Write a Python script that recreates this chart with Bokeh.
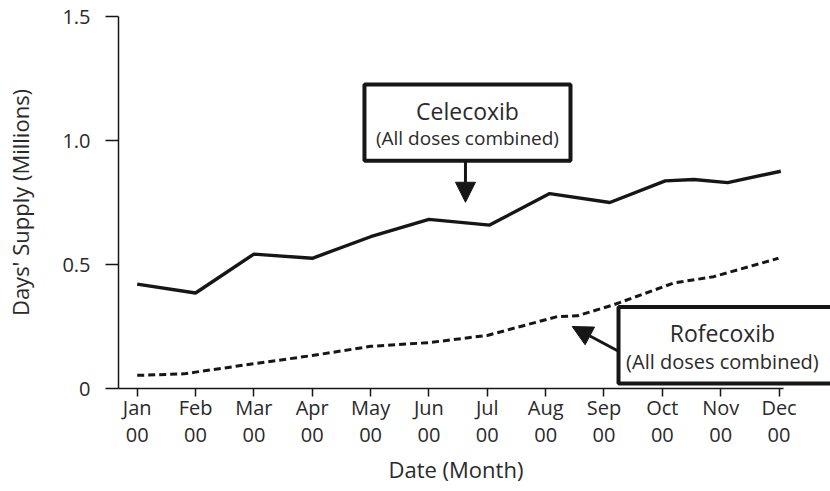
from bokeh.plotting import figure
from bokeh.models import (Range1d, FixedTicker, LinearAxis, BoxAnnotation, Label,
                          Arrow, NormalHead, Title)
from bokeh.embed import file_html
from bokeh.resources import INLINE

# ---- data ----
months = ["Jan", "Feb", "Mar", "Apr", "May", "Jun", "Jul", "Aug", "Sep", "Oct", "Nov", "Dec"]
year_labels = ["00"] * 12
month_pos = list(range(12))

cel_x = [0.0, 1.0, 2.0, 3.0, 4.0, 5.0, 6.04, 7.07, 8.1, 9.05, 9.54, 10.12, 11.03]
cel_y = [0.421, 0.385, 0.542, 0.525, 0.612, 0.682, 0.659, 0.786, 0.750, 0.837, 0.843, 0.830, 0.876]

rof_x = [0.0, 0.8, 1.0, 2.0, 3.0, 4.0, 5.0, 6.0, 7.2, 7.54, 8.16, 9.19, 9.88, 10.99]
rof_y = [0.053, 0.059, 0.066, 0.100, 0.133, 0.170, 0.185, 0.214, 0.290, 0.293, 0.337, 0.425, 0.451, 0.525]

y_ticks = [0, 0.5, 1.0, 1.5]
y_tick_labels = ["0", "0.5", "1.0", "1.5"]

FONT = "Open Sans"
TXT = "#2a2a2a"
INK = "#161616"

W, H = 830, 491
p = figure(width=W, height=H, output_backend="svg", toolbar_location=None,
           x_range=Range1d(-0.3205, 11.882), y_range=Range1d(0, 1.5),
           min_border_left=118, min_border_right=0, min_border_top=16, min_border_bottom=102)
p.outline_line_color = None
p.grid.visible = False
p.background_fill_color = "white"
p.border_fill_color = "white"

# y axis
ya = p.yaxis[0]
ya.ticker = FixedTicker(ticks=y_ticks)
ya.major_label_overrides = {t: l for t, l in zip(y_ticks, y_tick_labels)}
ya.major_tick_out = 13
ya.major_tick_in = 0
ya.minor_tick_line_color = None
ya.axis_line_width = 1.5
ya.axis_line_color = INK
ya.major_tick_line_width = 1.5
ya.major_tick_line_color = INK
ya.major_label_standoff = 15
ya.major_label_text_font = FONT
ya.major_label_text_font_size = "20px"
ya.major_label_text_color = TXT
ya.axis_label = "Days' Supply (Millions)"
ya.axis_label_text_font = FONT
ya.axis_label_text_font_size = "22px"
ya.axis_label_text_font_style = "normal"
ya.axis_label_text_color = TXT
ya.axis_label_standoff = 24

# x axis (month names)
xa = p.xaxis[0]
xa.ticker = FixedTicker(ticks=month_pos)
xa.major_label_overrides = {i: m for i, m in zip(month_pos, months)}
xa.bounds = (-0.3205, 11.075)
xa.major_tick_out = 8
xa.major_tick_in = 0
xa.minor_tick_line_color = None
xa.axis_line_width = 1.5
xa.axis_line_color = INK
xa.major_tick_line_width = 1.5
xa.major_tick_line_color = INK
xa.major_label_standoff = -3
xa.major_label_text_font = FONT
xa.major_label_text_font_size = "20px"
xa.major_label_text_color = TXT

# second x axis (year)
xa2 = LinearAxis(ticker=FixedTicker(ticks=month_pos),
                 major_label_overrides={i: y for i, y in zip(month_pos, year_labels)})
xa2.axis_line_color = None
xa2.major_tick_line_color = None
xa2.minor_tick_line_color = None
xa2.major_tick_out = 0
xa2.major_tick_in = 0
xa2.major_label_standoff = 4
xa2.major_label_text_font = FONT
xa2.major_label_text_font_size = "20px"
xa2.major_label_text_color = TXT
p.add_layout(xa2, "below")

# x axis title (placed under the axis line, not the full frame)
p.add_layout(Title(text="Date (Month)", align="left", offset=270, standoff=15,
                   text_font=FONT, text_font_size="22px", text_font_style="normal",
                   text_color=TXT), "below")

# lines
p.line(cel_x, cel_y, line_color=INK, line_width=3.4)
p.line(rof_x, rof_y, line_color=INK, line_width=3, line_dash="7 4")

# annotation boxes
p.add_layout(BoxAnnotation(left=3.895, right=7.426, bottom=0.918, top=1.226,
                           fill_color="white", fill_alpha=1.0,
                           line_color=INK, line_alpha=1.0, line_width=4, level="annotation"))
p.add_layout(BoxAnnotation(left=8.249, right=12.5, bottom=0.020, top=0.329,
                           fill_color="white", fill_alpha=1.0,
                           line_color=INK, line_alpha=1.0, line_width=4, level="annotation"))

for (lx, ly, txt, fs) in [(5.66, 1.117, "Celecoxib", "23px"),
                          (5.66, 1.012, "(All doses combined)", "19px"),
                          (10.03, 0.225, "Rofecoxib", "23px"),
                          (10.03, 0.108, "(All doses combined)", "20px")]:
    p.add_layout(Label(x=lx, y=ly, text=txt, text_font=FONT, text_font_size=fs,
                       text_color=TXT, text_align="center", text_baseline="middle"))

p.add_layout(Arrow(x_start=5.626, y_start=0.918, x_end=5.626, y_end=0.751,
                   line_color=INK, line_width=3,
                   end=NormalHead(size=20, fill_color=INK, line_color=INK, line_width=1)))
p.add_layout(Arrow(x_start=8.249, y_start=0.150, x_end=7.455, y_end=0.250,
                   line_color=INK, line_width=3,
                   end=NormalHead(size=20, fill_color=INK, line_color=INK, line_width=1)))

open("out.html", "w").write(file_html(p, INLINE))
